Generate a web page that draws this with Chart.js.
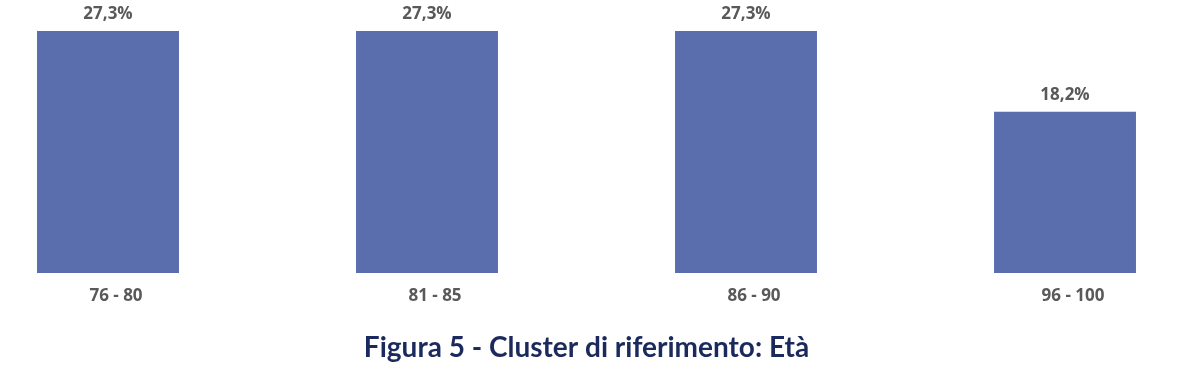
<!DOCTYPE html>
<html>
<head>
<meta charset="utf-8">
<script src="https://cdn.jsdelivr.net/npm/chart.js@4"></script>
<style>
  html, body { margin: 0; padding: 0; background: #fff; }
  #wrap { width: 1198px; height: 378px; }
</style>
</head>
<body>
<div id="wrap"><canvas id="myChart"></canvas></div>
<script>
var ageGroups = ["76 - 80", "81 - 85", "86 - 90", "96 - 100"];
var shares = [27.3, 27.3, 27.3, 18.2];
var barColor = '#5a6eae';

// draw the percentage above each bar
var valueLabels = {
  id: 'valueLabels',
  afterDatasetsDraw: function (chart) {
    var ctx = chart.ctx;
    var meta = chart.getDatasetMeta(0);
    ctx.save();
    ctx.font = 'bold 17px "Open Sans", sans-serif';
    ctx.fillStyle = '#595959';
    ctx.textAlign = 'center';
    ctx.textBaseline = 'middle';
    meta.data.forEach(function (bar, i) {
      var txt = shares[i].toFixed(1).replace('.', ',') + '%';
      ctx.fillText(txt, bar.x, bar.y - 17);
    });
    ctx.restore();
  }
};

var ctx = document.getElementById('myChart').getContext('2d');
var myChart = new Chart(ctx, {
  type: 'bar',
  data: {
    labels: ageGroups,
    datasets: [{
      data: shares,
      backgroundColor: barColor,
      barPercentage: 0.445,
      categoryPercentage: 1,
      clip: false
    }]
  },
  options: {
    responsive: true,
    maintainAspectRatio: false,
    animation: false,
    layout: {
      padding: { left: 108, right: 133, top: 31, bottom: 0 }
    },
    plugins: {
      legend: { display: false },
      tooltip: { enabled: false },
      title: {
        display: true,
        position: 'bottom',
        text: 'Figura 5 - Cluster di riferimento: Età',
        color: '#1b2a5c',
        font: { family: 'Lato', size: 28, weight: 'bold' },
        padding: { top: 20, bottom: 13 }
      }
    },
    scales: {
      x: {
        offset: false,
        grid: { display: false },
        border: { display: false },
        ticks: {
          color: '#595959',
          font: { family: 'Open Sans', size: 17, weight: 'bold' },
          padding: 5,
          labelOffset: 8
        }
      },
      y: {
        display: false,
        min: 0,
        max: 27.3
      }
    }
  },
  plugins: [valueLabels]
});
</script>
</body>
</html>
